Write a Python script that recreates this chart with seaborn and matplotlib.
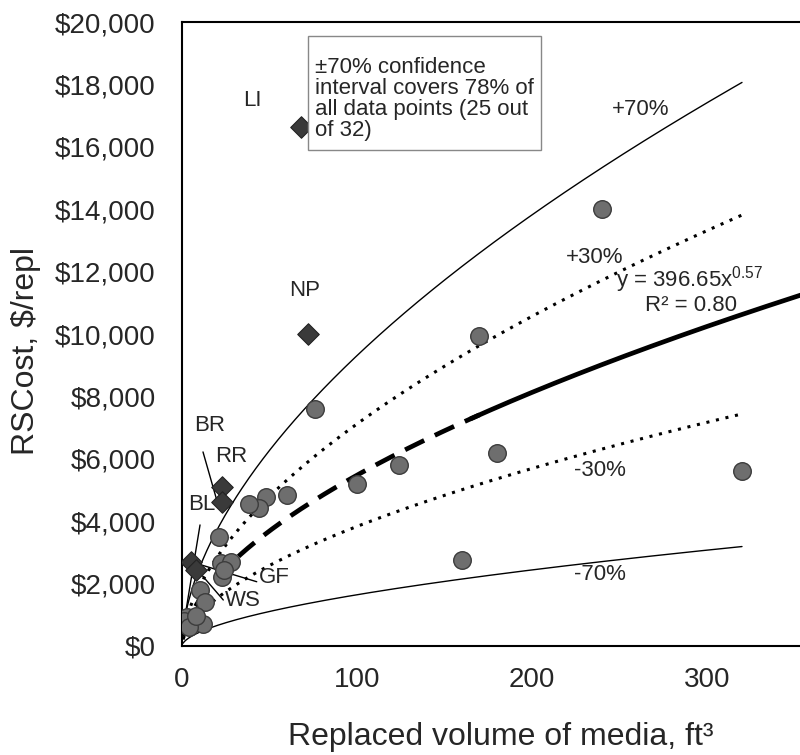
import numpy as np
import pandas as pd
import matplotlib
matplotlib.use("Agg")
import matplotlib.pyplot as plt
import seaborn as sns
from matplotlib.ticker import MultipleLocator, FuncFormatter
from matplotlib.patches import Rectangle

sns.set_theme(style="white")
plt.rcParams['font.family'] = ['Liberation Sans', 'DejaVu Sans']
plt.rcParams['mathtext.fontset'] = 'custom'
plt.rcParams['mathtext.rm'] = 'Liberation Sans'

# ---- data ----
circle_x = [240, 170, 76, 180, 124, 100, 320, 160, 60, 48, 44, 38, 21, 22, 28, 23, 24,
            10.5, 13, 3, 6, 12, 1, 4, 8]
circle_y = [14000, 9950, 7600, 6200, 5800, 5200, 5600, 2750, 4840, 4760, 4410, 4550, 3500,
            2650, 2700, 2200, 2450, 1780, 1400, 940, 750, 700, 800, 600, 950]
outlier_names = ["LI", "NP", "BR", "RR", "BL", "WS"]
outlier_x = [68, 72, 22.7, 22.7, 5, 7.8]
outlier_y = [16650, 10000, 5100, 4630, 2700, 2435]
fit_a = 396.65
fit_b = 0.57
bands = [1.7, 1.3, 0.7, 0.3]
band_labels = ["+70%", "+30%", "-30%", "-70%"]
band_max_x = 320
y_ticks = [0, 2000, 4000, 6000, 8000, 10000, 12000, 14000, 16000, 18000, 20000]
x_ticks = [0, 100, 200, 300]

fig = plt.figure(figsize=(8, 7.55), dpi=100)
ax = fig.add_axes([182/800, 109/755, 1 - 182/800, (646 - 22)/755])

xmax = (800 - 182) / 1.75

# curves
xs = np.linspace(0.6, band_max_x, 400)
for k, f in enumerate(bands):
    solid = f in (1.7, 0.3)
    ls = '-' if solid else (0, (1, 2.2))
    lw = 1.0 if solid else 2.2
    sns.lineplot(x=xs, y=fit_a * xs**fit_b * f, ax=ax, color='black', lw=lw,
                 linestyle=ls, estimator=None, sort=False)

xf1 = np.linspace(0.6, 170, 300)
xf2 = np.linspace(165, xmax + 5, 300)
sns.lineplot(x=xf1, y=fit_a * xf1**fit_b, ax=ax, color='black', lw=3.4,
             linestyle=(0, (4.5, 2.5)), estimator=None, sort=False)
sns.lineplot(x=xf2, y=fit_a * xf2**fit_b, ax=ax, color='black', lw=3.4,
             estimator=None, sort=False)

# leader lines
leaders = [((12, 6220), (20, 4650)), ((10.3, 3880), (1.7, 940)),
           ((42.7, 2060), (5, 2700)), ((23.6, 1475), (11.3, 2275))]
for (x0, y0), (x1, y1) in leaders:
    ax.plot([x0, x1], [y0, y1], color='black', lw=1.0, zorder=3)

df_c = pd.DataFrame({'x': circle_x, 'y': circle_y})
sns.scatterplot(data=df_c, x='x', y='y', ax=ax, s=160, color='#6e6e6e',
                edgecolor='#3c3c3c', linewidth=1.0, zorder=4, legend=False)
df_o = pd.DataFrame({'x': outlier_x, 'y': outlier_y})
sns.scatterplot(data=df_o, x='x', y='y', ax=ax, s=120, marker='D', color='#3a3a3a',
                edgecolor='#222222', linewidth=0.8, zorder=5, legend=False)

fs = 16
ax.text(40, 17500, "LI", fontsize=fs, ha='center', va='center')
ax.text(70, 11400, "NP", fontsize=fs, ha='center', va='center')
ax.text(16, 7080, "BR", fontsize=fs, ha='center', va='center')
ax.text(28, 6060, "RR", fontsize=fs, ha='center', va='center')
ax.text(11, 4550, "BL", fontsize=fs, ha='center', va='center')
ax.text(53, 2180, "GF", fontsize=fs, ha='center', va='center')
ax.text(35, 1470, "WS", fontsize=fs, ha='center', va='center')
band_pos = [(262, 17180), (236, 12450), (239, 5640), (239, 2280)]
for lab, (bx, by) in zip(band_labels, band_pos):
    ax.text(bx, by, lab, fontsize=fs, ha='center', va='center')
ax.text(290, 11730, r"y = 396.65x$^{\mathregular{0.57}}$", fontsize=fs, ha='center', va='center')
ax.text(291, 10900, "R² = 0.80", fontsize=fs, ha='center', va='center')

# annotation box
ax.add_patch(Rectangle((72, 15900), 133, 19550 - 15900, fc='white', ec='#888888',
                       lw=1.0, zorder=6))
ax.text(76, 18870, "±70% confidence\ninterval covers 78% of\nall data points (25 out\nof 32)",
        fontsize=fs, ha='left', va='top', linespacing=1.0, zorder=7)

ax.set_xlim(0, xmax)
ax.set_ylim(0, 20000)
ax.set_xticks(x_ticks)
ax.set_yticks(y_ticks)
ax.xaxis.set_minor_locator(MultipleLocator(20))
ax.yaxis.set_minor_locator(MultipleLocator(1000))
ax.yaxis.set_major_formatter(FuncFormatter(lambda v, p: f"${int(v):,}"))
ax.tick_params(axis='both', which='both', direction='in', length=6, width=1.0,
               labelsize=20, color='black')
ax.tick_params(axis='y', pad=19)
ax.tick_params(axis='x', pad=15)
for s in ['left', 'bottom', 'top']:
    ax.spines[s].set_visible(True)
    ax.spines[s].set_color('black')
    ax.spines[s].set_linewidth(1.5)
ax.spines['right'].set_visible(False)
ax.set_xlabel("Replaced volume of media, ft³", fontsize=23)
ax.set_ylabel("RSCost, $/repl", fontsize=23)
ax.xaxis.set_label_coords(0.515, -0.146)
ax.yaxis.set_label_coords(-0.252, 0.473)
ax.xaxis.label.set_va('center')
ax.yaxis.label.set_va('center')

fig.savefig("out.png", dpi=100)
